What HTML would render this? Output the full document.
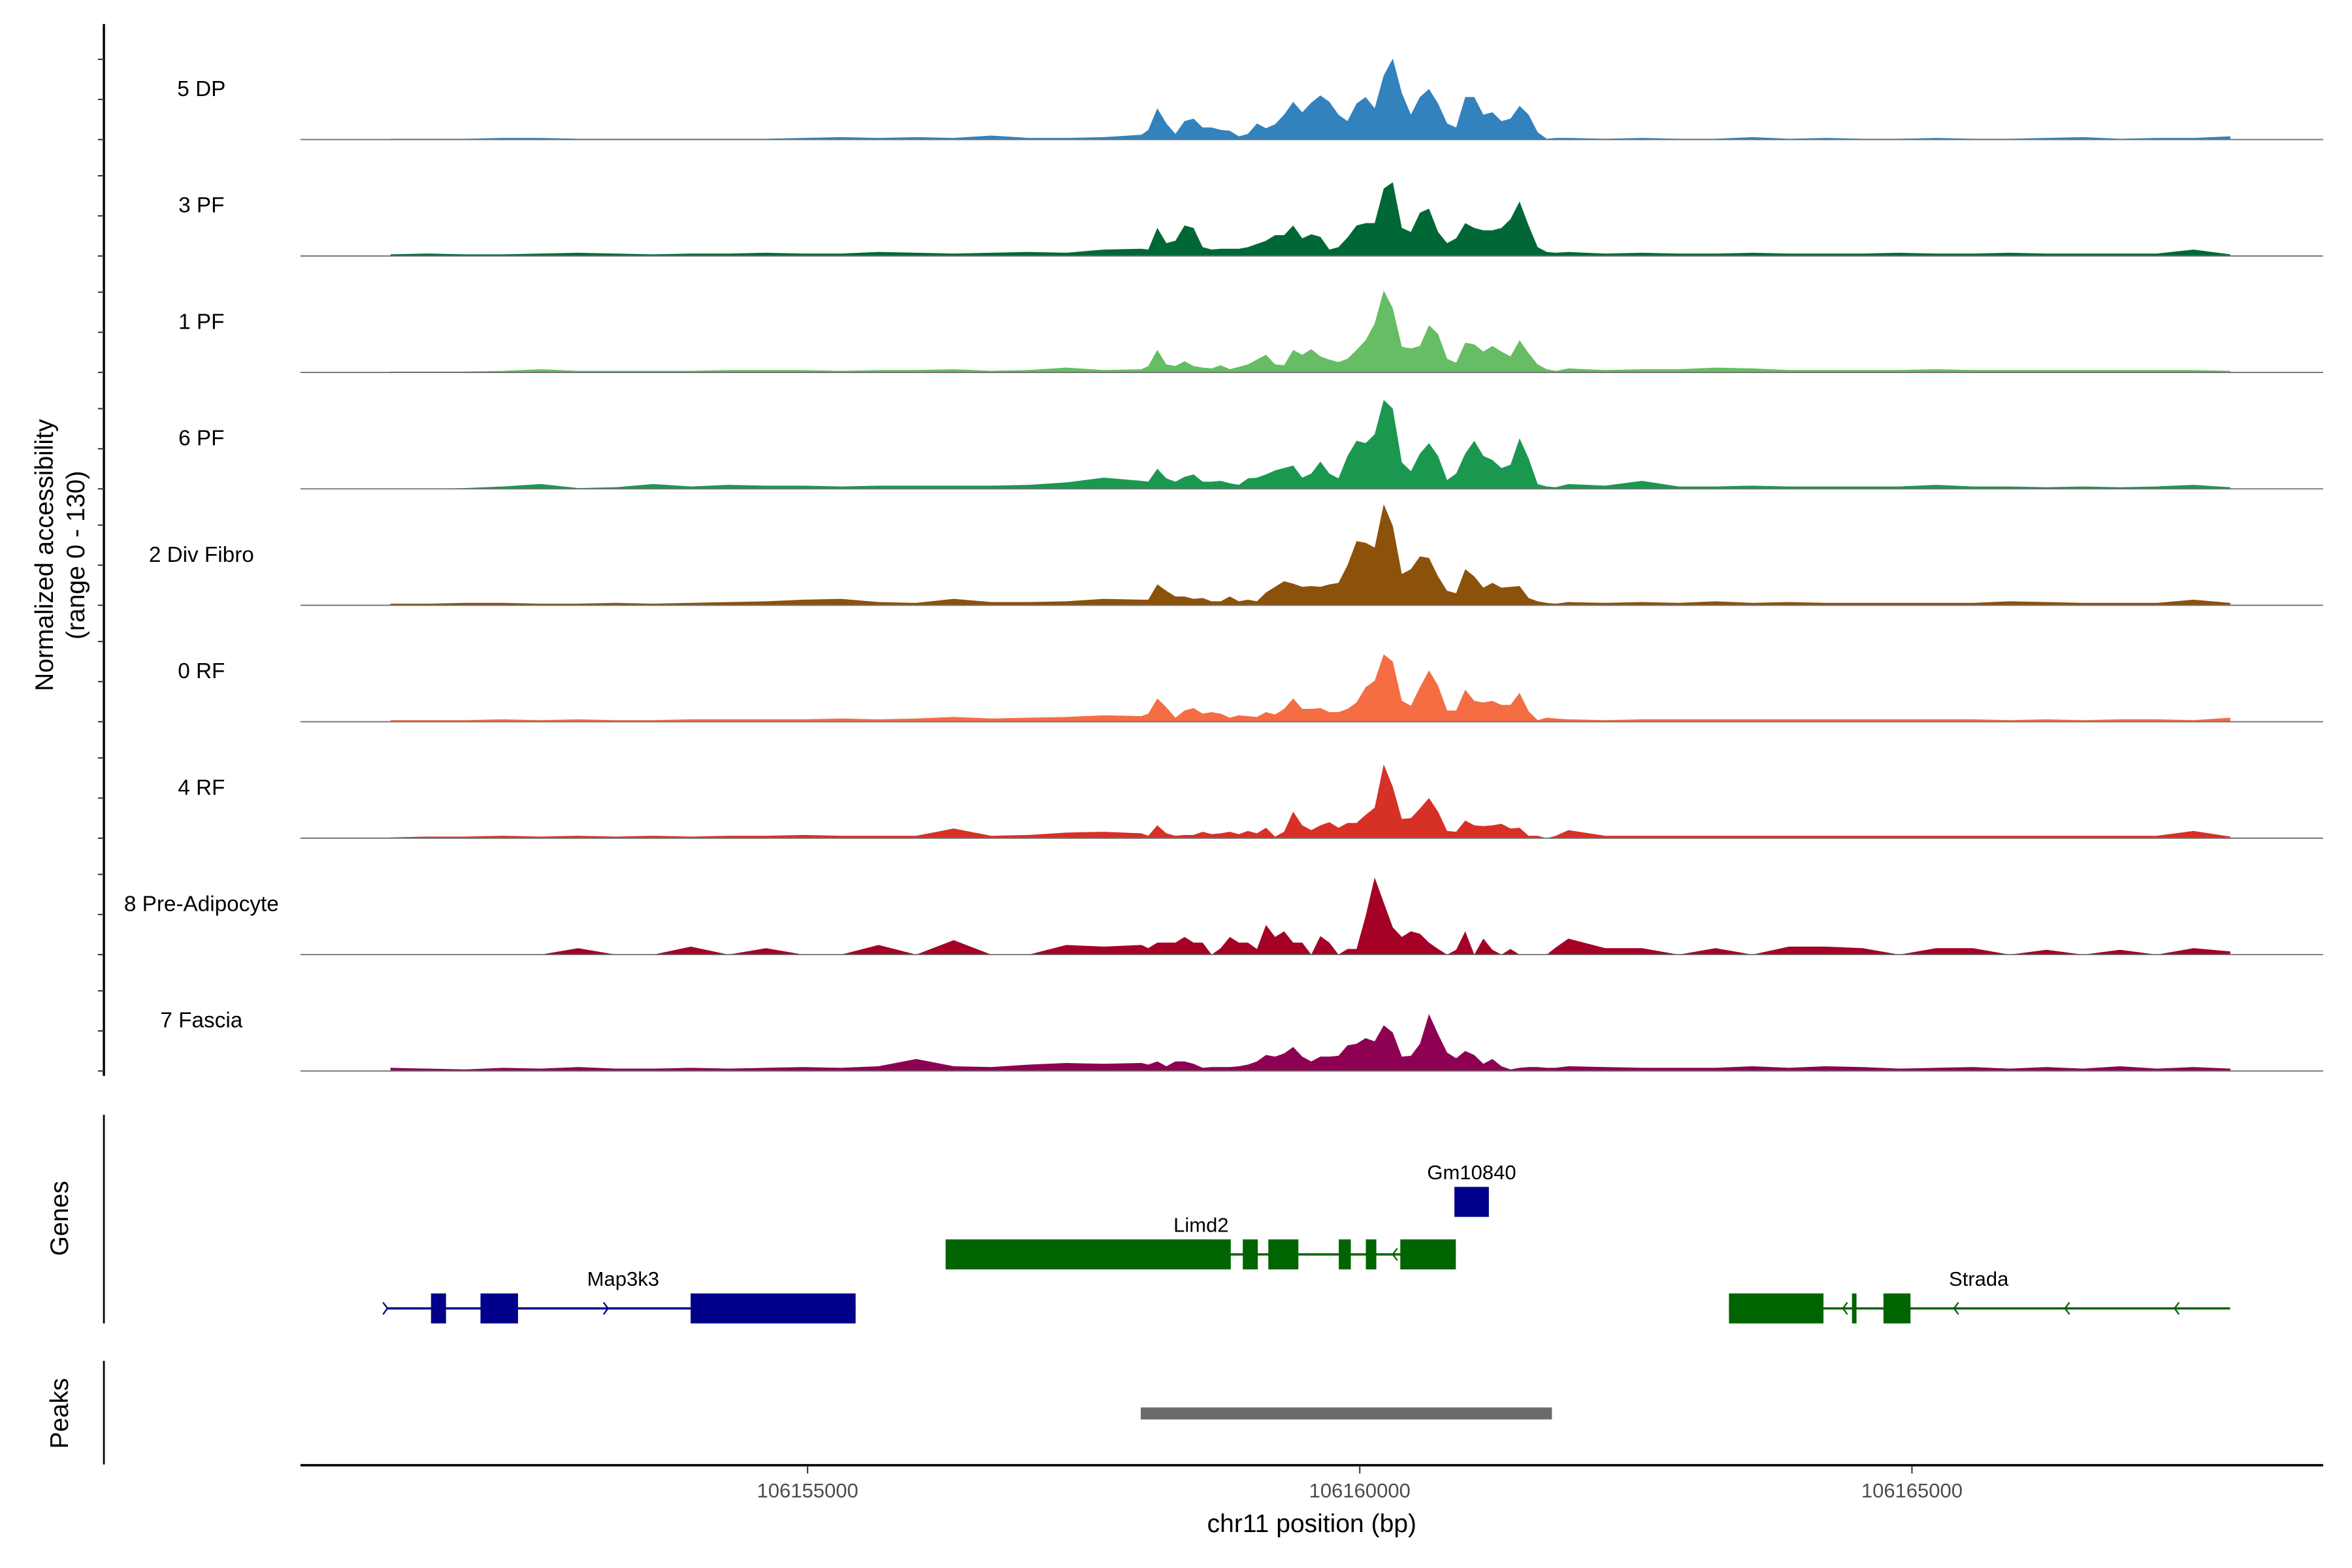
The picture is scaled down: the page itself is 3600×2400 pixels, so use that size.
<!DOCTYPE html>
<html><head><meta charset="utf-8">
<style>
html,body{margin:0;padding:0;background:#fff;}
svg{display:block;font-family:"Liberation Sans",Arial,sans-serif;}
</style></head>
<body>
<svg id="chart" xmlns="http://www.w3.org/2000/svg" width="3600" height="2400" viewBox="0 0 1567 1045">
<rect x="0" y="0" width="1567" height="1045" fill="#fff"/>
<g id="tracks"></g>
<g id="yaxis"></g>
<text x="0" y="0" transform="translate(35,370) rotate(-90)" text-anchor="middle" font-size="17" fill="#000">Normalized accessibility</text>
<text x="0" y="0" transform="translate(56,370) rotate(-90)" text-anchor="middle" font-size="17" fill="#000">(range 0 - 130)</text>
<line x1="69" y1="743" x2="69" y2="882" stroke="#000" stroke-width="1.2"/>
<text transform="translate(45,812) rotate(-90)" text-anchor="middle" font-size="17">Genes</text>
<line x1="69" y1="907" x2="69" y2="976" stroke="#000" stroke-width="1.2"/>
<text transform="translate(45,942) rotate(-90)" text-anchor="middle" font-size="17">Peaks</text>
<g id="genes"></g>
<g id="peaks"></g>
<g id="xaxis"></g>
<text x="874" y="1021" text-anchor="middle" font-size="17">chr11 position (bp)</text>
</svg>
<script>
// ---- data ----
const trackNames = ["5 DP","3 PF","1 PF","6 PF","2 Div Fibro","0 RF","4 RF","8 Pre-Adipocyte","7 Fascia"];
const trackColors = ["#3182bd","#006837","#66bd63","#1a9850","#8c510a","#f46d43","#d73027","#a50026","#8e0152"];
const binRegions = [[106151223,340,21],[106158085,82,46],[106161889,333,19]];
const v5DP = [1,1,1,2,2,1,1,1,1,1,1,2,3,2,3,2,5,2,2,3,6,
 12,39,20,7,23,26,15,15,12,11,4,7,20,14,19,31,47,34,46,55,47,31,23,45,53,39,80,101,58,31,53,63,45,20,15,53,53,31,34,23,26,42,31,9,1,2,
 2,1,2,1,1,3,1,2,1,1,2,1,1,2,3,1,2,2,4];
const v3PF = [2,3,2,2,3,4,3,2,3,3,4,3,3,5,4,3,4,5,4,8,9,
 8,35,16,19,38,35,11,8,9,9,9,11,15,19,26,26,38,22,27,24,8,11,23,38,41,41,84,92,35,30,54,59,30,16,22,41,35,32,32,35,46,68,38,11,5,4,
 5,3,4,3,3,4,3,3,3,4,3,3,4,3,3,3,3,8,2];
const v1PF = [1,1,1,2,4,2,2,2,2,3,3,3,2,3,3,4,2,3,6,3,4,
 8,28,10,8,14,8,6,5,9,4,7,10,16,22,10,9,28,22,29,20,16,13,17,28,40,61,102,80,32,30,33,59,48,17,12,37,35,26,33,26,20,40,24,10,4,2,
 5,3,4,4,6,5,3,3,3,3,4,3,3,3,3,3,3,3,2];
const v6PF = [0,0,1,3,6,1,2,6,3,5,4,4,3,4,4,4,4,5,8,14,10,
 9,25,13,9,15,18,9,9,10,7,5,13,14,18,23,26,29,14,19,34,19,13,41,60,57,68,111,100,33,22,44,57,41,11,19,44,60,41,36,26,30,63,38,6,3,2,
 6,4,10,3,3,4,3,3,3,3,5,3,3,2,3,2,3,5,2];
const vDivFibro = [2,2,3,3,2,2,3,2,3,4,5,7,8,4,3,8,4,4,5,8,7,
 7,26,18,11,11,8,9,5,5,11,5,7,5,16,23,30,27,23,24,23,26,28,50,80,78,72,126,99,39,45,61,59,36,18,15,45,36,22,28,22,23,24,9,5,3,2,
 4,3,4,3,5,3,4,3,3,3,3,3,5,4,3,3,3,7,3];
const v0RF = [2,2,2,3,2,3,2,2,3,3,3,3,4,3,4,6,4,5,6,8,7,
 10,29,18,5,14,17,10,12,10,5,8,7,6,12,9,16,29,16,16,17,12,12,16,24,43,51,84,75,26,20,43,64,45,14,14,40,26,24,26,21,21,36,13,2,5,4,
 3,2,3,3,3,3,3,3,3,3,3,3,2,3,2,3,3,2,5];
const v4RF = [1,2,2,3,2,3,2,3,2,3,3,4,3,3,3,12,3,4,7,8,6,
 3,16,6,3,4,4,8,5,6,8,5,9,6,13,2,8,33,16,10,16,20,13,19,19,29,38,92,64,24,25,37,50,33,9,8,22,16,15,16,18,12,13,3,3,0,3,
 10,3,3,3,3,3,3,3,3,3,3,3,3,3,3,3,3,9,2];
const vPreAdipo = [0,0,0,0,0,8,0,0,10,0,8,0,0,12,0,18,0,0,12,10,12,
 8,15,15,15,22,15,15,0,8,22,15,15,7,37,22,29,15,15,0,23,15,0,7,7,48,96,65,34,22,29,26,15,7,0,6,29,0,20,6,0,7,0,0,0,0,9,
 20,8,8,0,8,0,10,10,8,0,8,8,0,6,0,6,0,8,4];
const vFascia = [4,3,2,4,3,5,3,3,4,3,4,5,4,6,15,6,5,8,10,9,10,
 8,12,6,12,12,9,4,5,5,5,6,8,12,20,18,22,30,18,12,18,18,19,32,34,41,37,57,48,18,19,34,71,46,23,16,25,20,9,15,6,2,4,5,5,4,4,
 6,5,4,4,4,6,4,6,5,3,4,5,3,5,3,6,3,5,3];
const trackValues = [v5DP,v3PF,v1PF,v6PF,vDivFibro,v0RF,v4RF,vPreAdipo,vFascia];
const yTicks = [0,50,100];
const xTicks = [106155000,106160000,106165000];
const xTickLabels = ["106155000","106160000","106165000"];
const geneNames = ["Map3k3","Limd2","Gm10840","Strada"];
const geneColors = ["#00008b","#006400","#00008b","#006400"];
const geneRows = [872,836,801,872];
const geneSpans = [[106151196,106155435],[106156250,106160870],[106160857,106161169],[106163343,106167881]];
const geneExons = [
 [[106151590,106151726],[106152038,106152378],[106153941,106155435]],
 [[106156250,106158832],[106158941,106159077],[106159172,106159444],[106159810,106159919],[106160055,106160150],[106160367,106160870]],
 [[106160857,106161169]],
 [[106163343,106164199],[106164457,106164498],[106164742,106164987]]
];
const geneArrows = [[106151196,106153193],[106160299],[],[106164375,106165381,106166386,106167378]];
const geneStrand = [1,-1,1,-1];
const geneLabelPos = [106153330,106158563,106161013,106165605];
const peakRanges = [[106158017,106161740]];

// ---- scales ----
const X0=106150408, PXL=200, PXR=1548, PPB=0.0736;
function xs(bp){return PXL+(bp-X0)*PPB;}
const BASE0=93, TSTEP=77.6, YMAX=130, THEIGHT=69.5;
function ys(v,k){return BASE0+TSTEP*k - v/YMAX*THEIGHT;}
const NS="http://www.w3.org/2000/svg";
function mk(tag,attrs,parent){const e=document.createElementNS(NS,tag);for(const a in attrs)e.setAttribute(a,attrs[a]);parent.appendChild(e);return e;}

const positions=[];
binRegions.forEach(r=>{for(let i=0;i<r[2];i++)positions.push(r[0]+r[1]*i);});

const gT=document.getElementById('tracks');
trackValues.forEach((vals,k)=>{
  const base=ys(0,k);
  let d="M"+xs(positions[0]).toFixed(2)+","+base;
  vals.forEach((v,i)=>{d+=" L"+xs(positions[i]).toFixed(2)+","+ys(v,k).toFixed(2);});
  d+=" L"+xs(positions[vals.length-1]).toFixed(2)+","+base+" Z";
  const p=mk('path',{d:d,fill:trackColors[k]},gT);
  
  
  const bl=mk('line',{x1:PXL,x2:PXR,y1:base,y2:base,stroke:'#707070','stroke-width':0.8},gT);
  
  
  const t=mk('text',{x:134,y:base-29,'text-anchor':'middle','font-size':14.5,fill:'#000'},gT);
  t.textContent=trackNames[k];
  
  
});

const gY=document.getElementById('yaxis');
const ax=mk('line',{x1:69,x2:69,y1:16,y2:717,stroke:'#000','stroke-width':1.5},gY);


trackValues.forEach((v,k)=>{
  yTicks.forEach(t=>{
    const y=ys(t,k);
    const tk=mk('line',{x1:65,x2:69,y1:y,y2:y,stroke:'#333','stroke-width':0.9},gY);
    
    
  });
});

const gG=document.getElementById('genes');
geneNames.forEach((n,g)=>{
  const y=geneRows[g], c=geneColors[g];
  const ln=mk('line',{x1:xs(geneSpans[g][0]),x2:xs(geneSpans[g][1]),y1:y,y2:y,stroke:c,'stroke-width':1.5},gG);
  
  
  geneExons[g].forEach(e=>{
    const r=mk('rect',{x:xs(e[0]),y:y-10,width:xs(e[1])-xs(e[0]),height:20,fill:c},gG);
    
    
  });
  geneArrows[g].forEach(a=>{
    const x=xs(a), s=geneStrand[g];
    const pa=mk('path',{d:`M${x-3*s},${y-4} L${x},${y} L${x-3*s},${y+4}`,fill:'none',stroke:c,'stroke-width':1},gG);
    
    
  });
  const t=mk('text',{x:xs(geneLabelPos[g]),y:y-15,'text-anchor':'middle','font-size':13.5,fill:'#000'},gG);
  t.textContent=n;
  
  
});

const gP=document.getElementById('peaks');
peakRanges.forEach(r=>{
  const pr=mk('rect',{x:xs(r[0]),y:938,width:xs(r[1])-xs(r[0]),height:8,fill:'#6b6b6b'},gP);
  
  
});

const gX=document.getElementById('xaxis');
const xl=mk('line',{x1:PXL,x2:PXR,y1:976.5,y2:976.5,stroke:'#000','stroke-width':1.6},gX);


xTicks.forEach((t,i)=>{
  const x=xs(t);
  const tk=mk('line',{x1:x,x2:x,y1:977,y2:982,stroke:'#333','stroke-width':0.9},gX);
  
  
  const lb=mk('text',{x:x,y:998,'text-anchor':'middle','font-size':13.5,fill:'#4d4d4d'},gX);
  lb.textContent=xTickLabels[i];
  
  
});
</script>
</body></html>
